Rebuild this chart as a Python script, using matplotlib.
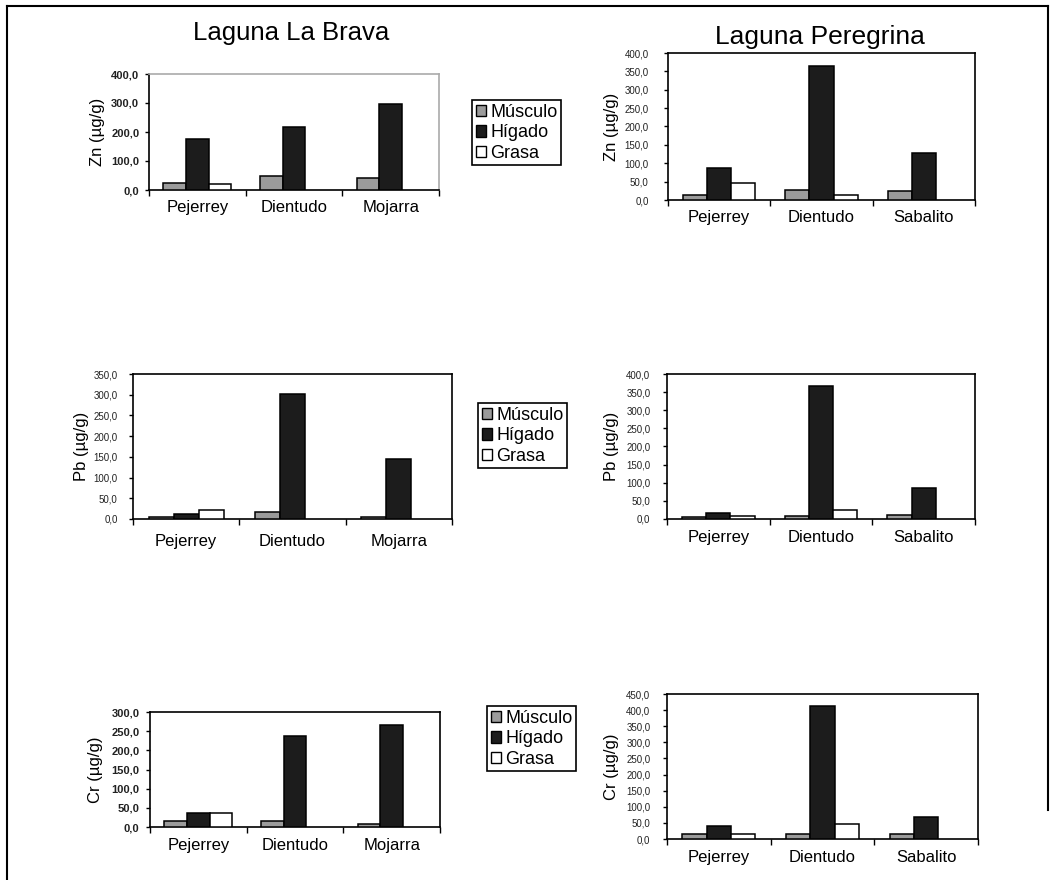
import matplotlib
matplotlib.use("Agg")
import matplotlib.pyplot as plt
from matplotlib.patches import Patch
from matplotlib.lines import Line2D
import numpy as np

plt.rcParams['font.family'] = ['Liberation Sans', 'DejaVu Sans']

# ---------------- data ----------------
series_names = ['Músculo', 'Hígado', 'Grasa']
cats_brava = ['Pejerrey', 'Dientudo', 'Mojarra']
cats_peregrina = ['Pejerrey', 'Dientudo', 'Sabalito']

zn_brava_musculo = [23, 48, 41]
zn_brava_higado = [176, 218, 295]
zn_brava_grasa = [20, 0, 0]

zn_per_musculo = [13, 26, 24]
zn_per_higado = [87, 365, 127]
zn_per_grasa = [46, 13, 0]

pb_brava_musculo = [6, 16, 5]
pb_brava_higado = [13, 302, 146]
pb_brava_grasa = [22, 0, 0]

pb_per_musculo = [6, 7, 10]
pb_per_higado = [17.5, 368, 85]
pb_per_grasa = [8, 26, 0]

cr_brava_musculo = [15, 15, 8]
cr_brava_higado = [35.5, 238, 266]
cr_brava_grasa = [35.5, 0, 0]

cr_per_musculo = [14.5, 14.5, 14.5]
cr_per_higado = [39, 412, 68]
cr_per_grasa = [14.5, 47.5, 0]

titles = ['Laguna La Brava', 'Laguna Peregrina']

colors = ['#9b9b9b', '#1c1c1c', '#ffffff']

W, H = 1056, 880
fig = plt.figure(figsize=(W / 100, H / 100), dpi=100)
fig.patch.set_facecolor('white')


def make_axes(l, r, t, b):
    return fig.add_axes([l / W, 1 - b / H, (r - l) / W, (b - t) / H])


def panel(box, cats, series, ymax, ystep, ylabel, label_x, tick_fs,
          tick_pad, xpad, tick_weight='normal', spine_color='black'):
    ax = make_axes(*box)
    n = len(cats)
    centers = np.arange(n) + 0.5
    width = 0.235
    for k, vals in enumerate(series):
        vals = np.asarray(vals, dtype=float)
        mask = vals > 0
        ax.bar(centers[mask] + (k - 1) * width, vals[mask], width=width,
               color=colors[k], edgecolor='black', linewidth=1.1, zorder=3)
    ax.set_xlim(0, n)
    ax.set_ylim(0, ymax)
    yt = np.arange(0, ymax + 0.001, ystep)
    ax.set_yticks(yt)
    ax.set_yticklabels([('%.1f' % v).replace('.', ',') for v in yt],
                       fontsize=tick_fs, fontweight=tick_weight,
                       color='#222222')
    ax.set_xticks(np.arange(n + 1))
    ax.set_xticklabels([])
    ax.set_xticks(centers, minor=True)
    ax.set_xticklabels(cats, minor=True, fontsize=12)
    ax.tick_params(axis='x', which='major', direction='out', length=4,
                   width=1)
    ax.tick_params(axis='x', which='minor', length=0, pad=xpad)
    ax.tick_params(axis='y', direction='out', length=3, width=1,
                   pad=tick_pad)
    for s in ['left', 'bottom']:
        ax.spines[s].set_color('black')
        ax.spines[s].set_linewidth(1.2)
    for s in ['top', 'right']:
        ax.spines[s].set_color(spine_color)
        ax.spines[s].set_linewidth(1.2)
    ax.set_ylabel(ylabel, fontsize=12)
    ax.yaxis.set_label_coords(label_x, 0.5)
    return ax


panel((149, 439, 74, 190), cats_brava,
      [zn_brava_musculo, zn_brava_higado, zn_brava_grasa],
      400, 100, 'Zn (µg/g)', -0.152, 8, 4, 7, tick_weight='bold',
      spine_color='#aaaaaa')
panel((668, 975, 53, 200), cats_peregrina,
      [zn_per_musculo, zn_per_higado, zn_per_grasa],
      400, 50, 'Zn (µg/g)', -0.159, 7, 11, 7)
panel((133, 452, 374, 519), cats_brava,
      [pb_brava_musculo, pb_brava_higado, pb_brava_grasa],
      350, 50, 'Pb (µg/g)', -0.139, 7, 8, 11)
panel((667, 975, 374, 519), cats_peregrina,
      [pb_per_musculo, pb_per_higado, pb_per_grasa],
      400, 50, 'Pb (µg/g)', -0.155, 7, 9, 8)
panel((150, 440, 712, 827), cats_brava,
      [cr_brava_musculo, cr_brava_higado, cr_brava_grasa],
      300, 50, 'Cr (µg/g)', -0.162, 8, 4.5, 8, tick_weight='bold')
panel((667, 978, 694, 839), cats_peregrina,
      [cr_per_musculo, cr_per_higado, cr_per_grasa],
      450, 50, 'Cr (µg/g)', -0.155, 7, 9, 8)

# titles
fig.text(291 / W, 1 - 33 / H, titles[0], fontsize=18.5, ha='center',
         va='center')
fig.text(820 / W, 1 - 37 / H, titles[1], fontsize=19, ha='center',
         va='center')

# legends
handles = [Patch(facecolor=c, edgecolor='black', linewidth=1.0)
           for c in colors]
for (lx, ly) in [(472, 100), (478, 403), (487, 706)]:
    leg = fig.legend(handles, series_names, loc='upper left',
                     bbox_to_anchor=(lx / W, 1 - ly / H), fontsize=13,
                     frameon=True, fancybox=False, borderpad=0.2,
                     labelspacing=0.2, handlelength=0.6, handleheight=0.6,
                     handletextpad=0.2, borderaxespad=0)
    fr = leg.get_frame()
    fr.set_edgecolor('black')
    fr.set_linewidth(1.2)
    fr.set_alpha(1)

# outer frame
fig.add_artist(Line2D([7 / W, 7 / W], [0, 1 - 6 / H], color='black',
                      linewidth=1.5))
fig.add_artist(Line2D([7 / W, 1048 / W], [1 - 6 / H, 1 - 6 / H],
                      color='black', linewidth=1.5))
fig.add_artist(Line2D([1048 / W, 1048 / W], [1 - 6 / H, 1 - 810 / H],
                      color='black', linewidth=1.5))

fig.savefig('out.png', dpi=100, facecolor='white')
